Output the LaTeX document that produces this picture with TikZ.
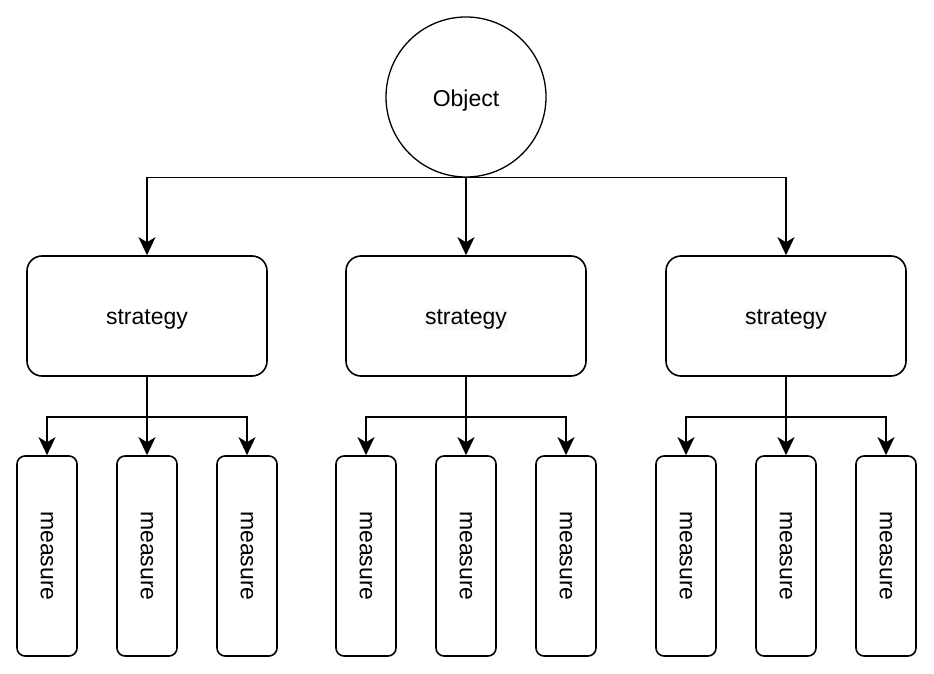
\documentclass[tikz,border=0pt]{standalone}
\usepackage{fontspec}
\setmainfont{Liberation Sans}
\usepackage{tikz}
\usetikzlibrary{arrows.meta, positioning}

\definecolor{hlgray}{RGB}{247,248,249}
\newcommand{\hltext}[1]{{\setlength{\fboxsep}{1pt}\colorbox{hlgray}{#1}}}
\newcommand{\lowtext}[1]{\raisebox{-3.5pt}[\height][\depth]{#1}}

\tikzset{
    objnode/.style={circle, draw=black, line width=1.3pt, minimum size=160pt, inner sep=0pt},
    stratbox/.style={rectangle, rounded corners=15pt, draw=black, line width=1.6pt, minimum width=240pt, minimum height=120pt},
    measbox/.style={rectangle, rounded corners=8pt, draw=black, line width=1.6pt, minimum width=60pt, minimum height=200pt, inner sep=0pt},
    arr/.style={-{Stealth[length=18pt, width=17pt, inset=5pt]}, line width=1.3pt},
    arrb/.style={-{Stealth[length=18pt, width=17pt, inset=5pt]}, line width=1.8pt}
}

\begin{document}
\begin{tikzpicture}[x=1pt, y=-1pt, font=\fontsize{23}{28}\selectfont]
            \useasboundingbox (0,0) rectangle (934,674);

            \node[objnode] (obj) at (466, 97) {\lowtext{Object}};

            \node[stratbox] (s1) at (147, 316) {\lowtext{strategy}};
            \node[stratbox] (s2) at (466, 316) {\lowtext{\hltext{strategy}}};
            \node[stratbox] (s3) at (786, 316) {\lowtext{\hltext{strategy}}};

            \node[measbox] (m11) at (47, 556) {\rotatebox{-90}{measure}};
            \node[measbox] (m12) at (147, 556) {\rotatebox{-90}{measure}};
            \node[measbox] (m13) at (247, 556) {\rotatebox{-90}{measure}};
            \node[measbox] (m21) at (366, 556) {\rotatebox{-90}{measure}};
            \node[measbox] (m22) at (466, 556) {\rotatebox{-90}{measure}};
            \node[measbox] (m23) at (566, 556) {\rotatebox{-90}{measure}};
            \node[measbox] (m31) at (686, 556) {\rotatebox{-90}{measure}};
            \node[measbox] (m32) at (786, 556) {\rotatebox{-90}{measure}};
            \node[measbox] (m33) at (886, 556) {\rotatebox{-90}{measure}};

            % object to strategies
            \draw[arr] (obj.south) -| (s1.north);
            \draw[arr] (obj.south) -- (s2.north);
            \draw[arr] (obj.south) -| (s3.north);

            % strategies to measures
            \draw[arrb] (s1.south) -- ++(0,40) -| (m11.north);
            \draw[arrb] (s1.south) -- (m12.north);
            \draw[arrb] (s1.south) -- ++(0,40) -| (m13.north);
            \draw[arrb] (s2.south) -- ++(0,40) -| (m21.north);
            \draw[arrb] (s2.south) -- (m22.north);
            \draw[arrb] (s2.south) -- ++(0,40) -| (m23.north);
            \draw[arrb] (s3.south) -- ++(0,40) -| (m31.north);
            \draw[arrb] (s3.south) -- (m32.north);
            \draw[arrb] (s3.south) -- ++(0,40) -| (m33.north);
\end{tikzpicture}
\end{document}
